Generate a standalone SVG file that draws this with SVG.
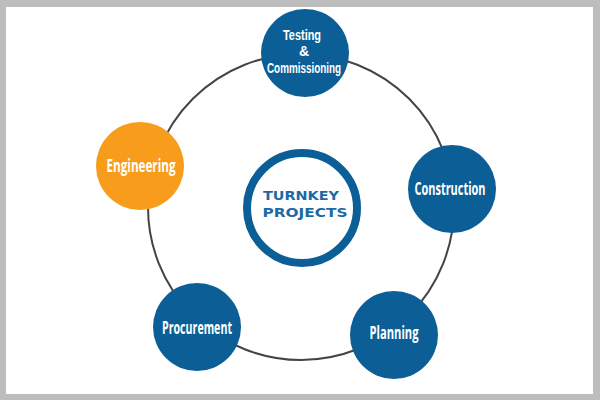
<svg xmlns="http://www.w3.org/2000/svg" width="600" height="400" viewBox="0 0 600 400">
<style>
.node{fill:#0b5f96}
.eng{fill:#f89c1c}
.lbl{font-family:"Open Sans","Liberation Sans",sans-serif;font-weight:bold;font-size:17px;fill:#fff;text-anchor:middle}
.sm{font-family:"Liberation Sans",sans-serif;font-size:14px}
.ctr{font-family:"DejaVu Sans","Liberation Sans",sans-serif;font-weight:bold;font-size:13px;fill:#1b6aa3;text-anchor:middle}
</style>
<rect x="0" y="0" width="600" height="400" fill="#bdbdbd"/>
<rect x="6" y="7" width="587" height="387" fill="#ffffff"/>
<g id="connectors">
<circle cx="301" cy="207" r="153" fill="none" stroke="#444" stroke-width="2"/>
</g>
<g id="center">
<circle cx="302" cy="208" r="55" fill="#fff" stroke="#0b5f96" stroke-width="8"/>
<text class="ctr" x="301" y="200" textLength="76" lengthAdjust="spacingAndGlyphs">TURNKEY</text>
<text class="ctr" x="305" y="217" textLength="85" lengthAdjust="spacingAndGlyphs">PROJECTS</text>
</g>
<g id="testing">
<circle class="node" cx="305" cy="53" r="44"/>
<text class="lbl sm" x="302" y="40" textLength="38" lengthAdjust="spacingAndGlyphs">Testing</text>
<text class="lbl sm" x="304" y="56">&amp;</text>
<text class="lbl sm" x="304" y="73" textLength="74" lengthAdjust="spacingAndGlyphs">Commissioning</text>
</g>
<g id="construction">
<circle class="node" cx="452" cy="189" r="44"/>
<text class="lbl" x="450" y="195" textLength="71" lengthAdjust="spacingAndGlyphs">Construction</text>
</g>
<g id="planning">
<circle class="node" cx="394" cy="335" r="44"/>
<text class="lbl" x="394" y="339" textLength="49" lengthAdjust="spacingAndGlyphs">Planning</text>
</g>
<g id="procurement">
<circle class="node" cx="197" cy="327" r="44"/>
<text class="lbl" x="197" y="334" textLength="70" lengthAdjust="spacingAndGlyphs">Procurement</text>
</g>
<g id="engineering">
<circle class="eng" cx="140" cy="166" r="44"/>
<text class="lbl" x="141" y="172" textLength="69" lengthAdjust="spacingAndGlyphs">Engineering</text>
</g>
</svg>
